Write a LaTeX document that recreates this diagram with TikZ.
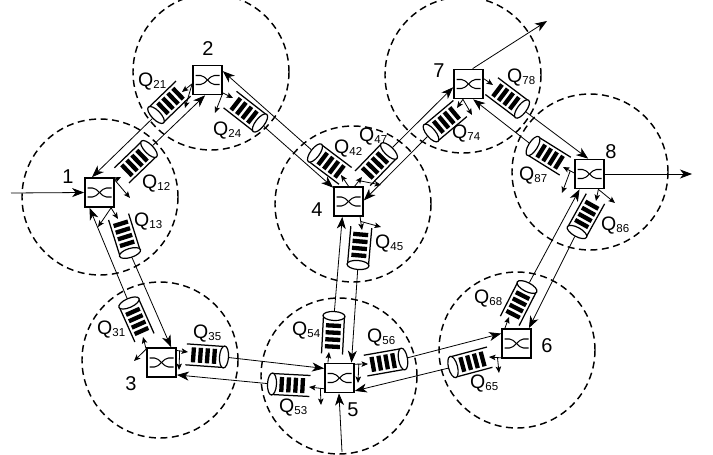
\documentclass[tikz,border=0pt]{standalone}
\usepackage{fontspec}
\setmainfont{Liberation Sans}
\usetikzlibrary{arrows.meta,shapes.geometric}
\tikzset{
  zone/.style={draw,circle,line width=1.45pt,dash pattern=on 7pt off 4.5pt,minimum size=156pt,inner sep=0pt},
  switchbox/.style={draw,fill=white,line width=1.7pt,minimum size=29pt,inner sep=0pt},
  qell/.style={draw,fill=white,ellipse,line width=1.2pt,minimum width=9pt,minimum height=22pt,inner sep=0pt},
  qline/.style={line width=1.25pt},
  qbar/.style={fill=black,draw=none},
  flow/.style={line width=.8pt,-{Stealth[length=12pt,width=9pt,inset=3.5pt]}},
  forkarrow/.style={line width=.8pt,-{Stealth[length=6.5pt,width=5.5pt,inset=1.5pt]}},
  qlab/.style={anchor=base west,inner sep=0pt,font=\fontsize{19.5}{19.5}\selectfont},
  numlab/.style={anchor=base,inner sep=0pt,font=\fontsize{20}{20}\selectfont}
}
% switch: id, x, y
\newcommand\mkswitch[3]{%
  \node[switchbox] (s#1) at (#2,#3) {};
  \begin{scope}[shift={(#2,#3)}]
    \draw[line width=1.05pt] (-12,-4.5) -- (-7,-4.5) .. controls (-2,-4.5) and (2,4.5) .. (7,4.5) -- (12,4.5);
    \draw[line width=1.05pt] (-12,4.5) -- (-7,4.5) .. controls (-2,4.5) and (2,-4.5) .. (7,-4.5) -- (12,-4.5);
  \end{scope}}
% queue: id, x, y of the closed end, angle of the open end
\newcommand\mkqueue[4]{%
  \begin{scope}[shift={(#2,#3)},rotate=#4]
    \draw[qline] (0,-10.5) -- (38,-10.5);
    \draw[qline] (0,10.5) -- (38,10.5);
    \foreach \b in {7.5,14.5,21.5,28.5}{\fill[qbar] (\b,-7.5) rectangle ++(4.3,15);}
  \end{scope}
  \node[qell,rotate=#4] (q#1) at (#2,#3) {};}
% label Q with index
\newcommand\mklab[3]{\node[qlab] (l#1) at (#2,#3) {Q\raisebox{-2pt}{\fontsize{11.5}{11.5}\selectfont #1}};}
% fork: id, switch anchor, target into queue
\newcommand\mkfork[3]{%
  \coordinate (fa#1) at (#3);
  \draw[forkarrow] (#2) -- (fa#1);}
% fork with side arrow: id, switch anchor, target, side target, branch position
\newcommand\mkforks[5]{%
  \coordinate (fa#1) at (#3);
  \coordinate (fb#1) at (#4);
  \draw[forkarrow] (#2) -- coordinate[pos=#5] (br#1) (fa#1);
  \draw[forkarrow] (br#1) -- (fb#1);}
\begin{document}
\begin{tikzpicture}[x=1pt,y=-1pt]
\useasboundingbox (0,0) rectangle (713,455);
\fill[white] (0,0) rectangle (713,455);
% zones
\node[zone] (z1) at (100,197) {};
\node[zone] (z2) at (211,72) {};
\node[zone] (z3) at (160,360) {};
\node[zone] (z4) at (353,204) {};
\node[zone] (z5) at (339,376) {};
\node[zone] (z6) at (517,350) {};
\node[zone] (z7) at (463,75) {};
\node[zone] (z8) at (590,172) {};
% switches
\mkswitch{1}{99.5}{192.5}
\mkswitch{2}{207.5}{80}
\mkswitch{3}{161.5}{362.5}
\mkswitch{4}{348.5}{201.5}
\mkswitch{5}{339.5}{378}
\mkswitch{6}{516.5}{343.5}
\mkswitch{7}{468.5}{84}
\mkswitch{8}{589.5}{174}
% queues
\mkqueue{21}{156}{115}{44}
\mkqueue{12}{149}{149}{224}
\mkqueue{13}{130}{253}{107.5}
\mkqueue{24}{260}{123}{142}
\mkqueue{31}{129}{303}{-66}
\mkqueue{35}{224}{357}{176}
\mkqueue{42}{315}{153}{-37}
\mkqueue{47}{389}{151}{226}
\mkqueue{45}{358}{265}{85}
\mkqueue{53}{272}{384}{-3}
\mkqueue{54}{334}{316}{-93}
\mkqueue{56}{403}{359}{190}
\mkqueue{65}{453}{367}{15}
\mkqueue{68}{527}{287}{243}
\mkqueue{74}{431}{133}{40}
\mkqueue{78}{522}{109}{143}
\mkqueue{86}{577}{232}{61}
\mkqueue{87}{533}{146}{-32}
% free ends
\coordinate (in1) at (11,193);
\coordinate (in5) at (342,452);
\coordinate (out7) at (547,21);
\coordinate (out8) at (692,174);
% flows
\draw[flow] (in1) -- (s1.west);
\draw[flow] (q21) -- (s1.116);
\draw[flow] (q31) -- (s1.237);
\draw[flow] (q12) -- (s2.261);
\draw[flow] (q42) -- (s2.30);
\draw[flow] (q13) -- (s3.58);
\draw[flow] (q53) -- (s3.321);
\draw[flow] (q24) -- (s4.138);
\draw[flow] (q74) -- (s4.4);
\draw[flow] (q54) -- (s4.248);
\draw[flow] (in5) -- (s5.268);
\draw[flow] (q35) -- (s5.148);
\draw[flow] (q45) -- (s5.52);
\draw[flow] (q65) -- (s5.320);
\draw[flow] (q56) -- (s6.147);
\draw[flow] (q86) -- (s6.51);
\draw[flow] (q47) -- (s7.192);
\draw[flow] (q87) -- (s7.287);
\draw[flow] (q78) -- (s8.95);
\draw[flow] (q68) -- (s8.237);
\draw[flow] (s7.75) -- (out7);
\draw[flow] (s8.east) -- (out8);
% forks
\mkforks{12}{s1.39}{121,177}{130,198}{0}
\mkforks{13}{s1.307}{118,219}{98,227}{0}
\mkforks{21}{s2.194}{182,92}{185,108}{0}
\mkforks{24}{s2.320}{233,98}{215,113}{0}
\mkforks{31}{s3.139}{143,337}{134,361}{0}
\mkforks{35}{s3.38}{188,352}{179,370}{.25}
\mkfork{42}{s4.90}{341,175}
\mkforks{47}{s4.68}{362,177}{381,185}{.6}
\mkforks{45}{s4.307}{362,230}{381,227}{.35}
\mkfork{54}{s5.127}{329,352}
\mkforks{56}{s5.42}{368,364}{358,383}{.3}
\mkforks{53}{s5.215}{309,387}{321,405}{.25}
\mkfork{68}{s6.127}{509,317}
\mkforks{65}{s6.223}{489,357}{499,373}{.3}
\mkfork{78}{s7.19}{493,85}
\mkforks{74}{s7.250}{457,108}{472,115}{0}
\mkforks{87}{s8.176}{563,167}{562,193}{.35}
\mkforks{86}{s8.300}{596,201}{615,203}{0}
% labels
\mklab{21}{138}{86}
\mklab{12}{142}{188}
\mklab{13}{134}{226}
\mklab{24}{213}{135}
\mklab{42}{334}{153}
\mklab{47}{359}{141}
\mklab{74}{452}{138}
\mklab{78}{507}{82}
\mklab{87}{519}{180}
\mklab{86}{601}{230}
\mklab{45}{375}{248}
\mklab{54}{292}{335}
\mklab{56}{367}{342}
\mklab{53}{279}{412}
\mklab{35}{193}{338}
\mklab{31}{97}{334}
\mklab{68}{474}{303}
\mklab{65}{470}{388}
\node[numlab] (n1) at (68,183) {1};
\node[numlab] (n2) at (208,55) {2};
\node[numlab] (n3) at (131,390) {3};
\node[numlab] (n4) at (317,216) {4};
\node[numlab] (n5) at (353,416) {5};
\node[numlab] (n6) at (547,352) {6};
\node[numlab] (n7) at (439,77) {7};
\node[numlab] (n8) at (611,158) {8};
\end{tikzpicture}
\end{document}
